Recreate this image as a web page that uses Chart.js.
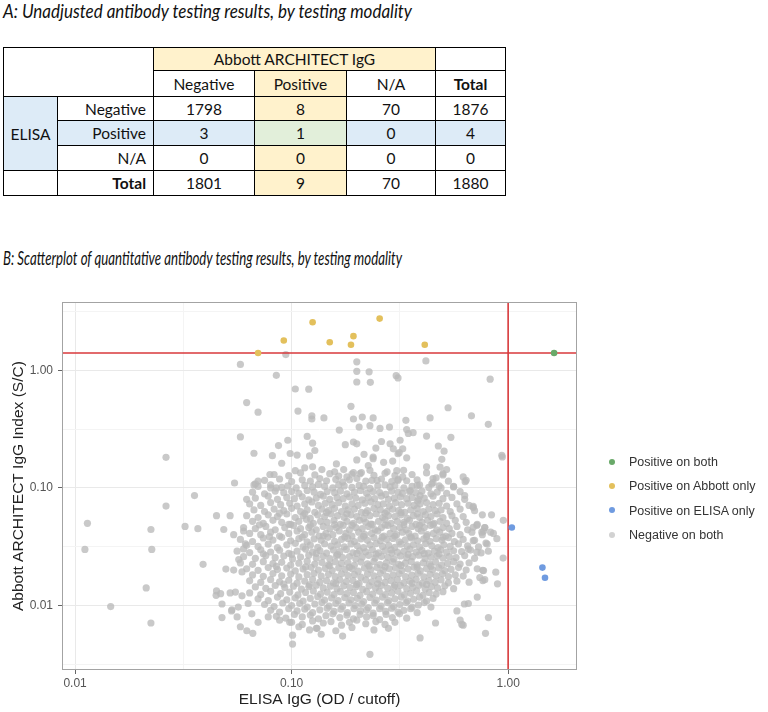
<!DOCTYPE html>
<html>
<head>
<meta charset="utf-8">
<script src="https://cdn.jsdelivr.net/npm/chart.js@4.4.1/dist/chart.umd.min.js"></script>
<style>
  body { margin: 0; background: #fff; }
  #page { position: relative; width: 768px; height: 712px; overflow: hidden; font-family: Lato, 'Noto Sans', sans-serif; color: #111; }
  .caption { position: absolute; left: 3px; font-style: italic; white-space: nowrap; transform-origin: 0 0; font-size: 19px; line-height: 22px; }
  #tbl { position: absolute; left: 3px; top: 47px; border-collapse: collapse; table-layout: fixed; font-size: 15.5px; }
  #tbl td { border: 1px solid #000; padding: 0 6px; text-align: center; white-space: nowrap; overflow: hidden; }
  #tbl td.lab { text-align: right; padding-right: 7px; }
  #tbl td.b { font-weight: bold; }
  .yel { background: #fff2cc; }
  .blu { background: #ddebf7; }
  .grn { background: #e2efda; }
  #plot { position: absolute; left: 0; top: 290px; }
  #legend { position: absolute; left: 609px; top: 450px; font-family: 'Liberation Sans', Arial, sans-serif; font-size: 12.5px; color: #333; }
  #legend div { height: 24.4px; line-height: 24.4px; white-space: nowrap; }
  #legend span.dot { display: inline-block; width: 6px; height: 6px; border-radius: 50%; margin-right: 14px; vertical-align: middle; position: relative; top: -1px; }
</style>
</head>
<body>
<div id="page">
  <div class="caption" id="capA" style="top:0px">A: Unadjusted antibody testing results, by testing modality</div>
  <table id="tbl"></table>
  <div class="caption" id="capB" style="top:247px">B: Scatterplot of quantitative antibody testing results, by testing modality</div>
  <canvas id="plot" width="768" height="422"></canvas>
  <div id="legend"></div>
</div>
<script>
// ---- table values ----
const abbottCats = ['Negative', 'Positive', 'N/A'];
const elisaCats = ['Negative', 'Positive', 'N/A'];
const counts = [[1798, 8, 70], [3, 1, 0], [0, 0, 0]];
const rowTotals = [1876, 4, 0];
const colTotals = [1801, 9, 70];
const grandTotal = 1880;

// ---- scatter values ----
const bothPos = [[1.63, 1.40]];
const abbottOnly = [[0.07, 1.40], [0.092, 1.79], [0.125, 2.56], [0.15, 1.73], [0.188, 1.65], [0.193, 1.95], [0.255, 2.75], [0.412, 1.65]];
const elisaOnly = [[1.04, 0.046], [1.44, 0.021], [1.48, 0.0172]];

const negOutliers = [
  [0.094,1.36],[0.058,1.12],[0.085,0.906],[0.2,1.18],[0.2,0.98],[0.228,0.97],[0.2,0.795],[0.231,0.79],[0.304,0.9],[0.31,0.86],[0.417,1.2],[0.826,0.84],
  [0.104,0.693],[0.12,0.69],[0.062,0.531],[0.07,0.44],[0.107,0.45],[0.124,0.41],[0.124,0.385],[0.141,0.393],[0.188,0.494],[0.193,0.385],[0.212,0.4],[0.238,0.393],
  [0.205,0.329],[0.23,0.338],[0.166,0.31],[0.256,0.32],[0.283,0.329],[0.337,0.375],[0.436,0.393],[0.528,0.48],[0.677,0.41],[0.81,0.347],
  [0.34,0.313],[0.364,0.295],[0.346,0.29],[0.42,0.276],[0.544,0.269],[0.058,0.271],[0.118,0.274],[0.096,0.254],[0.087,0.229],[0.125,0.24],[0.177,0.233],
  [0.193,0.245],[0.2,0.237],[0.26,0.248],[0.285,0.237],[0.317,0.254],[0.245,0.218],[0.326,0.215],[0.295,0.215],[0.476,0.227],[0.506,0.205],
  [0.0263,0.182],[0.067,0.197],[0.0815,0.188],[0.0985,0.196],[0.106,0.19],[0.121,0.187],[0.128,0.208],[0.216,0.193],[0.314,0.2],[0.31,0.195],[0.34,0.18],
  [0.238,0.183],[0.238,0.177],[0.2,0.173],[0.293,0.169],[0.266,0.165],[0.226,0.155],[0.09,0.162],[0.161,0.16],[0.494,0.175],[0.485,0.15],[0.52,0.143],[0.935,0.189],[0.94,0.183],
  [0.125,0.151],[0.138,0.143],[0.174,0.143],[0.115,0.148],[0.104,0.14],[0.193,0.135],[0.158,0.137],[0.23,0.141],[0.276,0.137],[0.306,0.14],[0.329,0.141],[0.42,0.151],
  [0.207,0.132],[0.0794,0.13],[0.5,0.132],[0.18,0.124],[0.326,0.124],[0.465,0.122],[0.62,0.124],[0.64,0.116],[0.633,0.113],[0.248,0.116],[0.31,0.116],[0.45,0.111],
  [0.444,0.108],[0.0545,0.11],[0.068,0.108],[0.07,0.114],[0.067,0.106],[0.38,0.105],[0.56,0.103],[0.49,0.1],[0.085,0.1],[0.08,0.1],[0.353,0.095],[0.0356,0.086],
  [0.63,0.086],[0.392,0.086],[0.062,0.08],[0.382,0.077],[0.69,0.068],[0.0263,0.07],
  [0.0114,0.05],[0.0111,0.03],[0.0224,0.0443],[0.0226,0.03],[0.0322,0.047],[0.0369,0.045],[0.039,0.0224],[0.0213,0.0141],[0.0146,0.0098],[0.0224,0.0071],
  [0.045,0.058],[0.052,0.058],[0.0486,0.0443],[0.054,0.04],[0.06,0.043],[0.0477,0.0103],[0.0477,0.0079],[0.0448,0.0122],[0.045,0.0133],[0.047,0.0126],[0.052,0.0128],
  [0.055,0.013],[0.059,0.0121],[0.063,0.0104],[0.053,0.0092],[0.0567,0.0097],[0.056,0.008],[0.0655,0.0085],[0.07,0.0072],[0.078,0.008],[0.088,0.0075],[0.098,0.0072],
  [0.108,0.0066],[0.0528,0.009],[0.058,0.0066],[0.0621,0.0061],[0.0662,0.0058],[0.101,0.0056],[0.101,0.0047],[0.121,0.0062],[0.131,0.0064],[0.137,0.0057],
  [0.172,0.0055],[0.23,0.00385],[0.392,0.0053],[0.0497,0.0204],[0.054,0.02],[0.059,0.0193],[0.057,0.0246],[0.0612,0.0334],[0.06,0.0303],
  [0.786,0.0058],[0.811,0.0079],[0.611,0.0069],[0.6,0.0075],[0.62,0.0068],[0.462,0.0071],[0.72,0.0118],[0.628,0.0103],[0.655,0.0104],[0.58,0.009],
  [0.893,0.0153],[0.877,0.0192],[0.764,0.0199],[0.77,0.0198],[0.764,0.0163],[0.78,0.0166],[0.74,0.0173],[0.948,0.0253],[0.95,0.053],[0.838,0.059],[0.69,0.0696],
  [0.79,0.034],[0.81,0.029],[0.717,0.0284],[0.69,0.0356],[0.655,0.0302],[0.756,0.042],[0.77,0.043],[0.83,0.042],[0.78,0.046],[0.69,0.0463],[0.717,0.048],
  [0.855,0.041],[0.887,0.037],[0.8,0.0333]
];

const negCore = [
  {x:[0.083,0.097,0.11,0.128,0.15,0.165,0.19,0.21,0.24,0.27,0.3,0.36,0.42,0.5],
   y:[0.13,0.127,0.134,0.129,0.132,0.126,0.131,0.135,0.128,0.133,0.127,0.13,0.134,0.129]},
  {x:[0.075,0.088,0.1,0.112,0.122,0.135,0.145,0.16,0.172,0.185,0.2,0.22,0.235,0.26,0.29,0.31,0.34,0.38,0.45,0.53],
   y:[0.116,0.119,0.113,0.117,0.114,0.12,0.115,0.118,0.112,0.117,0.12,0.114,0.116,0.119,0.113,0.118,0.115,0.117,0.12,0.114]},
  {x:[0.07,0.08,0.09,0.096,0.105,0.115,0.125,0.133,0.142,0.155,0.165,0.175,0.19,0.205,0.215,0.23,0.25,0.27,0.285,0.3,0.33,0.36,0.39,0.43,0.48,0.56],
   y:[0.103,0.106,0.101,0.104,0.1,0.105,0.102,0.107,0.103,0.1,0.106,0.104,0.101,0.105,0.103,0.099,0.104,0.106,0.102,0.105,0.1,0.103,0.106,0.101,0.104,0.102]},
  {x:[0.066,0.075,0.084,0.092,0.1,0.108,0.118,0.127,0.136,0.146,0.158,0.168,0.18,0.195,0.208,0.222,0.238,0.255,0.272,0.29,0.31,0.325,0.35,0.375,0.4,0.44,0.47,0.52,0.6],
   y:[0.092,0.089,0.094,0.091,0.093,0.09,0.095,0.092,0.088,0.093,0.091,0.094,0.089,0.092,0.095,0.09,0.093,0.091,0.088,0.094,0.092,0.09,0.093,0.091,0.094,0.089,0.092,0.09,0.093]},
  {x:[0.068,0.078,0.086,0.095,0.103,0.112,0.12,0.13,0.14,0.15,0.162,0.173,0.185,0.198,0.212,0.226,0.242,0.26,0.28,0.298,0.318,0.34,0.36,0.385,0.41,0.45,0.5,0.55,0.63],
   y:[0.082,0.085,0.08,0.083,0.081,0.084,0.079,0.082,0.085,0.08,0.083,0.081,0.084,0.082,0.079,0.083,0.081,0.085,0.08,0.082,0.084,0.081,0.083,0.08,0.082,0.085,0.081,0.083,0.08]},
  {x:[0.064,0.072,0.08,0.089,0.098,0.106,0.115,0.124,0.133,0.143,0.154,0.165,0.177,0.19,0.203,0.218,0.233,0.25,0.265,0.283,0.302,0.322,0.345,0.368,0.392,0.42,0.45,0.48,0.52,0.58,0.66],
   y:[0.073,0.071,0.075,0.072,0.074,0.07,0.073,0.076,0.071,0.074,0.072,0.075,0.07,0.073,0.071,0.074,0.076,0.072,0.073,0.07,0.075,0.072,0.074,0.071,0.073,0.075,0.072,0.074,0.07,0.073,0.071]},
  {x:[0.067,0.075,0.083,0.092,0.1,0.11,0.118,0.128,0.138,0.148,0.158,0.17,0.182,0.195,0.21,0.224,0.24,0.257,0.275,0.293,0.312,0.333,0.355,0.38,0.405,0.43,0.46,0.49,0.54,0.6,0.7],
   y:[0.065,0.063,0.066,0.064,0.067,0.063,0.065,0.062,0.066,0.064,0.067,0.063,0.065,0.066,0.062,0.064,0.067,0.065,0.063,0.066,0.064,0.062,0.065,0.067,0.063,0.066,0.064,0.065,0.063,0.066,0.064]},
  {x:[0.062,0.07,0.078,0.086,0.095,0.104,0.113,0.122,0.132,0.142,0.152,0.163,0.175,0.188,0.2,0.215,0.23,0.246,0.263,0.28,0.3,0.32,0.342,0.365,0.39,0.415,0.44,0.47,0.5,0.55,0.62,0.76],
   y:[0.058,0.056,0.059,0.057,0.06,0.056,0.058,0.055,0.059,0.057,0.06,0.058,0.056,0.059,0.057,0.055,0.058,0.06,0.056,0.058,0.057,0.059,0.055,0.058,0.056,0.059,0.057,0.06,0.056,0.058,0.057,0.059]},
  {x:[0.066,0.074,0.082,0.09,0.099,0.108,0.117,0.126,0.136,0.146,0.157,0.168,0.18,0.193,0.206,0.22,0.236,0.252,0.27,0.288,0.308,0.33,0.35,0.375,0.4,0.425,0.455,0.485,0.52,0.57,0.64,0.72],
   y:[0.052,0.05,0.053,0.051,0.049,0.052,0.054,0.05,0.052,0.051,0.053,0.049,0.052,0.05,0.053,0.051,0.049,0.052,0.054,0.05,0.052,0.051,0.053,0.049,0.051,0.053,0.05,0.052,0.05,0.053,0.051,0.049]},
  {x:[0.06,0.068,0.076,0.084,0.093,0.102,0.11,0.12,0.13,0.14,0.15,0.161,0.173,0.185,0.198,0.212,0.227,0.243,0.26,0.278,0.296,0.316,0.338,0.36,0.385,0.41,0.438,0.468,0.5,0.535,0.58,0.65,0.78],
   y:[0.046,0.045,0.047,0.044,0.046,0.048,0.045,0.046,0.044,0.047,0.045,0.046,0.048,0.044,0.046,0.045,0.047,0.044,0.046,0.048,0.045,0.046,0.044,0.047,0.045,0.046,0.048,0.044,0.046,0.045,0.047,0.044,0.046]},
  {x:[0.064,0.072,0.08,0.088,0.097,0.106,0.115,0.124,0.134,0.144,0.155,0.166,0.178,0.19,0.204,0.218,0.234,0.25,0.267,0.285,0.305,0.325,0.348,0.372,0.397,0.423,0.452,0.483,0.515,0.55,0.6,0.68,0.76],
   y:[0.041,0.04,0.042,0.039,0.041,0.043,0.04,0.042,0.039,0.041,0.04,0.043,0.041,0.039,0.042,0.04,0.041,0.043,0.039,0.041,0.04,0.042,0.041,0.039,0.043,0.04,0.041,0.042,0.039,0.041,0.04,0.042,0.04]},
  {x:[0.058,0.066,0.074,0.082,0.09,0.099,0.108,0.118,0.127,0.137,0.147,0.158,0.17,0.182,0.195,0.209,0.224,0.24,0.257,0.275,0.294,0.314,0.335,0.358,0.382,0.408,0.435,0.465,0.495,0.53,0.565,0.62,0.7],
   y:[0.0365,0.035,0.0375,0.036,0.038,0.0355,0.037,0.0348,0.0368,0.0358,0.038,0.0352,0.0365,0.0372,0.035,0.0368,0.0358,0.0378,0.0355,0.0365,0.0372,0.0348,0.0362,0.0375,0.0355,0.0368,0.0352,0.037,0.036,0.0378,0.035,0.0365,0.0358]},
  {x:[0.062,0.07,0.078,0.086,0.095,0.104,0.113,0.122,0.132,0.142,0.152,0.163,0.175,0.188,0.201,0.215,0.23,0.246,0.263,0.281,0.3,0.32,0.342,0.365,0.39,0.416,0.444,0.474,0.505,0.54,0.59,0.65,0.73],
   y:[0.0325,0.0318,0.0332,0.031,0.0328,0.0338,0.0315,0.0326,0.0312,0.0335,0.032,0.0328,0.0316,0.0334,0.0322,0.031,0.0328,0.0336,0.0318,0.0325,0.0312,0.0332,0.032,0.0328,0.0314,0.0336,0.0322,0.031,0.0328,0.0318,0.0334,0.0322,0.0315]},
  {x:[0.056,0.064,0.072,0.08,0.088,0.097,0.106,0.116,0.125,0.135,0.145,0.156,0.167,0.179,0.192,0.206,0.22,0.236,0.252,0.27,0.288,0.308,0.33,0.352,0.376,0.4,0.428,0.457,0.488,0.52,0.56,0.61,0.67,0.75],
   y:[0.029,0.0282,0.0298,0.0285,0.0295,0.0278,0.029,0.0302,0.0284,0.0293,0.0279,0.0296,0.0287,0.03,0.0281,0.0292,0.0286,0.0299,0.028,0.0291,0.0297,0.0283,0.0289,0.0302,0.0285,0.0294,0.0279,0.029,0.0298,0.0284,0.0292,0.0287,0.0296,0.028]},
  {x:[0.06,0.068,0.076,0.084,0.092,0.101,0.11,0.12,0.13,0.14,0.15,0.161,0.172,0.185,0.198,0.212,0.227,0.243,0.26,0.278,0.297,0.318,0.34,0.362,0.387,0.413,0.44,0.47,0.5,0.535,0.575,0.63,0.7],
   y:[0.026,0.0252,0.0266,0.0255,0.0263,0.0249,0.0258,0.0268,0.0254,0.0262,0.025,0.0265,0.0256,0.0261,0.0248,0.0259,0.0267,0.0253,0.0262,0.0257,0.0249,0.0264,0.0255,0.026,0.0268,0.0251,0.0258,0.0264,0.0253,0.026,0.0256,0.0266,0.0252]},
  {x:[0.058,0.066,0.074,0.082,0.09,0.099,0.108,0.118,0.128,0.138,0.148,0.159,0.17,0.182,0.195,0.209,0.224,0.24,0.256,0.274,0.293,0.313,0.335,0.357,0.38,0.406,0.433,0.462,0.493,0.525,0.56,0.6,0.66],
   y:[0.023,0.0224,0.0236,0.0227,0.0233,0.0221,0.0229,0.0238,0.0225,0.0232,0.0222,0.0235,0.0228,0.0231,0.022,0.0234,0.0226,0.0237,0.0223,0.023,0.0235,0.0224,0.0229,0.0237,0.0222,0.0231,0.0226,0.0234,0.0221,0.0228,0.0236,0.0225,0.0231]},
  {x:[0.062,0.07,0.078,0.086,0.095,0.104,0.113,0.123,0.133,0.143,0.154,0.165,0.177,0.19,0.203,0.217,0.232,0.248,0.265,0.283,0.302,0.323,0.345,0.368,0.393,0.42,0.448,0.478,0.51,0.545,0.59,0.64,0.72],
   y:[0.0205,0.0199,0.021,0.0202,0.0208,0.0197,0.0204,0.0211,0.02,0.0207,0.0198,0.0209,0.0203,0.0206,0.0196,0.0208,0.0201,0.021,0.0199,0.0205,0.0209,0.0198,0.0204,0.0211,0.0197,0.0206,0.0201,0.0209,0.0198,0.0203,0.021,0.02,0.0205]},
  {x:[0.066,0.074,0.082,0.09,0.099,0.108,0.118,0.127,0.137,0.148,0.159,0.17,0.182,0.195,0.209,0.224,0.24,0.257,0.275,0.294,0.314,0.336,0.359,0.383,0.408,0.436,0.465,0.497,0.53,0.57,0.62],
   y:[0.0182,0.0177,0.0187,0.0179,0.0185,0.0175,0.0183,0.0188,0.0178,0.0184,0.0176,0.0186,0.018,0.0183,0.0174,0.0185,0.0179,0.0188,0.0177,0.0182,0.0186,0.0176,0.0181,0.0188,0.0175,0.0184,0.0179,0.0186,0.0176,0.0182,0.0178]},
  {x:[0.064,0.072,0.08,0.088,0.097,0.106,0.115,0.125,0.135,0.145,0.156,0.167,0.179,0.192,0.205,0.22,0.235,0.252,0.27,0.288,0.308,0.33,0.352,0.376,0.402,0.43,0.46,0.49,0.53,0.58,0.66],
   y:[0.0162,0.0157,0.0166,0.0159,0.0164,0.0155,0.0161,0.0167,0.0158,0.0163,0.0156,0.0165,0.016,0.0163,0.0154,0.0165,0.0159,0.0167,0.0157,0.0162,0.0166,0.0156,0.0161,0.0167,0.0155,0.0163,0.0158,0.0165,0.0156,0.0161,0.0158]},
  {x:[0.068,0.076,0.084,0.093,0.102,0.111,0.12,0.13,0.14,0.151,0.162,0.174,0.186,0.199,0.213,0.228,0.244,0.26,0.278,0.297,0.318,0.34,0.363,0.388,0.414,0.442,0.472,0.51,0.56],
   y:[0.0144,0.014,0.0148,0.0142,0.0146,0.0138,0.0145,0.0149,0.0141,0.0146,0.0139,0.0147,0.0142,0.0145,0.0137,0.0147,0.0141,0.0148,0.014,0.0144,0.0148,0.0139,0.0143,0.0149,0.0138,0.0145,0.0141,0.0147,0.0139]},
  {x:[0.064,0.072,0.08,0.089,0.098,0.107,0.116,0.126,0.136,0.146,0.157,0.168,0.18,0.193,0.207,0.222,0.237,0.254,0.271,0.29,0.31,0.331,0.354,0.378,0.404,0.432,0.465,0.5],
   y:[0.0128,0.0124,0.0132,0.0126,0.013,0.0123,0.0129,0.0133,0.0125,0.013,0.0124,0.0131,0.0126,0.0129,0.0122,0.0131,0.0125,0.0132,0.0124,0.0128,0.0132,0.0123,0.0127,0.0133,0.0122,0.0129,0.0125,0.0131]},
  {x:[0.07,0.078,0.086,0.095,0.104,0.113,0.122,0.132,0.142,0.153,0.164,0.176,0.188,0.201,0.215,0.23,0.246,0.263,0.281,0.3,0.321,0.343,0.366,0.39,0.42,0.45],
   y:[0.0114,0.011,0.0118,0.0112,0.0116,0.0109,0.0115,0.0119,0.0111,0.0116,0.011,0.0117,0.0112,0.0115,0.0108,0.0117,0.0111,0.0118,0.011,0.0114,0.0118,0.0109,0.0113,0.0118,0.0109,0.0115]},
  {x:[0.075,0.083,0.091,0.1,0.109,0.118,0.128,0.138,0.149,0.16,0.172,0.184,0.197,0.211,0.226,0.242,0.259,0.277,0.296,0.316,0.338,0.36,0.385,0.41,0.44],
   y:[0.0102,0.0098,0.0105,0.01,0.0104,0.0097,0.0103,0.0106,0.0099,0.0104,0.0098,0.0105,0.01,0.0103,0.0096,0.0105,0.0099,0.0106,0.0098,0.0102,0.0106,0.0097,0.0101,0.0106,0.0097]},
  {x:[0.08,0.088,0.097,0.106,0.115,0.125,0.135,0.146,0.157,0.169,0.181,0.194,0.208,0.222,0.238,0.255,0.272,0.29,0.31,0.33,0.355,0.38],
   y:[0.0091,0.0088,0.0094,0.009,0.0093,0.0087,0.0092,0.0095,0.0089,0.0093,0.0087,0.0094,0.009,0.0092,0.0086,0.0094,0.0089,0.0095,0.0088,0.0091,0.0094,0.0087]},
  {x:[0.085,0.094,0.103,0.112,0.122,0.133,0.144,0.155,0.167,0.18,0.193,0.207,0.222,0.238,0.255,0.273,0.292,0.315,0.34],
   y:[0.0081,0.0078,0.0084,0.008,0.0083,0.0077,0.0082,0.0085,0.0079,0.0083,0.0077,0.0084,0.008,0.0082,0.0076,0.0084,0.0079,0.0085,0.0078]},
  {x:[0.1,0.112,0.125,0.14,0.152,0.17,0.185,0.2,0.22,0.245,0.27,0.3],
   y:[0.0072,0.0069,0.0074,0.0071,0.0073,0.0068,0.0072,0.0075,0.007,0.0073,0.0069,0.0072]},
  {x:[0.13,0.16,0.19,0.24,0.28],
   y:[0.0064,0.0061,0.0065,0.0062,0.0064]},
  // extra points filling the darkest middle of the cloud
  {x:[0.088,0.115,0.145,0.18,0.22,0.27,0.32,0.38],
   y:[0.061,0.0605,0.0618,0.0602,0.0612,0.0608,0.0615,0.0603]},
  {x:[0.071,0.097,0.122,0.158,0.19,0.232,0.27,0.33,0.39,0.45],
   y:[0.0485,0.049,0.048,0.0488,0.0482,0.0492,0.0484,0.0487,0.0481,0.049]},
  {x:[0.079,0.112,0.14,0.176,0.215,0.262,0.3,0.355,0.42,0.5],
   y:[0.0385,0.0382,0.039,0.0383,0.0388,0.0381,0.0389,0.0384,0.0387,0.038]},
  {x:[0.074,0.1,0.13,0.163,0.2,0.245,0.29,0.345,0.41,0.48],
   y:[0.0275,0.0272,0.0278,0.0271,0.0277,0.0273,0.0279,0.0272,0.0276,0.0274]},
  {x:[0.085,0.116,0.15,0.185,0.228,0.27,0.32,0.38,0.44],
   y:[0.0215,0.0213,0.0218,0.0212,0.0217,0.0214,0.0219,0.0213,0.0216]},
  {x:[0.092,0.121,0.16,0.2,0.25,0.3,0.36,0.42],
   y:[0.0152,0.015,0.0154,0.0151,0.0153,0.0149,0.0155,0.0151]}
];

// axes
const xMin = 0.0087, xMax = 2.08;
const yMin = 0.00283, yMax = 3.79;
const xTickVals = [0.01, 0.03162, 0.1, 0.3162, 1];
const yTickVals = [0.003162, 0.01, 0.03162, 0.1, 0.3162, 1, 3.162];
const majorTicks = [0.01, 0.1, 1];
const abbottCutoff = 1.4;
const elisaCutoff = 1.0;

// ---------- table ----------
const tbl = document.getElementById('tbl');
const colW = [54, 96, 101, 92, 89, 70];
const rowH = [23, 26, 24, 25, 25, 25];
const cg = document.createElement('colgroup');
colW.forEach(w => { const c = document.createElement('col'); c.style.width = w + 'px'; cg.appendChild(c); });
tbl.appendChild(cg);

function addRow(h) { const tr = tbl.insertRow(); tr.style.height = h + 'px'; return tr; }
function cell(tr, text, cls, span) {
  const td = tr.insertCell();
  td.textContent = text;
  if (cls) td.className = cls;
  if (span) { if (span.c) td.colSpan = span.c; if (span.r) td.rowSpan = span.r; }
  return td;
}

let tr = addRow(rowH[0]);
cell(tr, '', '', {c: 2, r: 2});
cell(tr, 'Abbott ARCHITECT IgG', 'yel', {c: 3});
cell(tr, '');
tr = addRow(rowH[1]);
abbottCats.forEach((c, i) => cell(tr, c, i === 1 ? 'yel' : ''));
cell(tr, 'Total', 'b');

elisaCats.forEach((rc, r) => {
  tr = addRow(rowH[2 + r]);
  const rowCls = r === 1 ? 'blu' : '';
  if (r === 0) cell(tr, 'ELISA', 'blu', {r: 3});
  cell(tr, rc, 'lab ' + rowCls);
  counts[r].forEach((v, c) => {
    let cls = rowCls;
    if (c === 1) cls = r === 1 ? 'grn' : 'yel';
    cell(tr, String(v), cls);
  });
  cell(tr, String(rowTotals[r]), rowCls);
});
tr = addRow(rowH[5]);
cell(tr, '');
cell(tr, 'Total', 'lab b');
colTotals.forEach((v, c) => cell(tr, String(v), c === 1 ? 'yel' : ''));
cell(tr, String(grandTotal));

// captions squeezed to the reference width
function squeeze(id, target) {
  const el = document.getElementById(id);
  const w = el.getBoundingClientRect().width;
  el.style.transform = 'scaleX(' + (target / w) + ')';
}
squeeze('capA', 409);
squeeze('capB', 399);

// ---------- scatter ----------
const toPts = arr => arr.map(([x, y]) => ({x, y}));
const negPoints = toPts(negOutliers);
negCore.forEach(band => band.x.forEach((x, i) => {
  if (band.y[i] !== undefined) negPoints.push({x, y: band.y[i]});
}));

const groups = [
  {label: 'Positive on both', data: bothPos, color: '#69a969'},
  {label: 'Positive on Abbott only', data: abbottOnly, color: '#e3c05c'},
  {label: 'Positive on ELISA only', data: elisaOnly, color: '#6f9be0'},
  {label: 'Negative on both', data: null, color: 'rgba(186,186,186,0.78)', legendColor: '#d2d2d2'}
];

const datasets = groups.map((g, i) => ({
  label: g.label,
  data: g.data ? toPts(g.data) : negPoints,
  pointBackgroundColor: g.color,
  pointBorderColor: 'rgba(0,0,0,0)',
  pointBorderWidth: 0,
  pointRadius: i === 3 ? 3.6 : 3.3,
  showLine: false,
  order: i === 3 ? 3 : 0
}));
const red = '#d8393b';
datasets.push({
  label: 'Abbott cutoff', data: [{x: xMin, y: abbottCutoff}, {x: xMax, y: abbottCutoff}],
  showLine: true, borderColor: red, borderWidth: 1.6, pointRadius: 0, order: 1
});
datasets.push({
  label: 'ELISA cutoff', data: [{x: elisaCutoff, y: yMin}, {x: elisaCutoff, y: yMax}],
  showLine: true, borderColor: red, borderWidth: 1.6, pointRadius: 0, order: 1
});

const isMajor = v => majorTicks.some(m => Math.abs(m - v) < 1e-9);
const axisFont = {family: "'Liberation Sans', Arial, sans-serif", size: 12};
const titleFont = {family: "'Liberation Sans', Arial, sans-serif", size: 15.5};

function logAxis(tickVals, min, max) {
  return {
    type: 'logarithmic',
    min, max,
    afterBuildTicks: s => { s.ticks = tickVals.map(v => ({value: v})); },
    grid: {
      color: c => (c.tick && isMajor(c.tick.value)) ? '#e9e9e9' : '#f4f4f4',
      lineWidth: 1,
      drawTicks: true,
      tickLength: 4,
      tickColor: c => (c.tick && isMajor(c.tick.value)) ? '#666' : 'rgba(0,0,0,0)'
    },
    border: {display: false},
    ticks: {
      autoSkip: false, maxRotation: 0, color: '#555', font: axisFont,
      callback: v => isMajor(v) ? Number(v).toFixed(2) : ''
    }
  };
}

const xAxis = logAxis(xTickVals, xMin, xMax);
xAxis.ticks.padding = 2;
xAxis.afterFit = s => { s.height = 42; };
xAxis.title = {display: true, text: 'ELISA IgG (OD / cutoff)', color: '#222', font: titleFont, padding: {top: 0, bottom: 3}};

const yAxis = logAxis(yTickVals, yMin, yMax);
yAxis.ticks.padding = 5;
yAxis.afterFit = s => { s.width = 62; };
yAxis.title = {display: true, text: 'Abbott ARCHITECT IgG Index (S/C)', color: '#222', font: titleFont, padding: {top: 9, bottom: 0}};

const panelBorder = {
  id: 'panelBorder',
  afterDraw(chart) {
    const {ctx, chartArea: a} = chart;
    ctx.save();
    ctx.strokeStyle = '#a3a3a3';
    ctx.lineWidth = 1;
    ctx.strokeRect(Math.round(a.left) + 0.5, Math.round(a.top) + 0.5, Math.round(a.right - a.left) - 1, Math.round(a.bottom - a.top) - 1);
    ctx.restore();
  }
};

new Chart(document.getElementById('plot'), {
  type: 'scatter',
  data: {datasets},
  options: {
    responsive: false,
    animation: false,
    events: [],
    layout: {padding: {top: 12, right: 191, left: 0, bottom: 0}},
    plugins: {legend: {display: false}, tooltip: {enabled: false}},
    scales: {x: xAxis, y: yAxis}
  },
  plugins: [panelBorder]
});

// legend (ggplot style, to the right of the panel)
const legend = document.getElementById('legend');
groups.forEach(g => {
  const row = document.createElement('div');
  const dot = document.createElement('span');
  dot.className = 'dot';
  dot.style.background = g.legendColor || g.color;
  row.appendChild(dot);
  row.appendChild(document.createTextNode(g.label));
  legend.appendChild(row);
});
</script>
</body>
</html>
